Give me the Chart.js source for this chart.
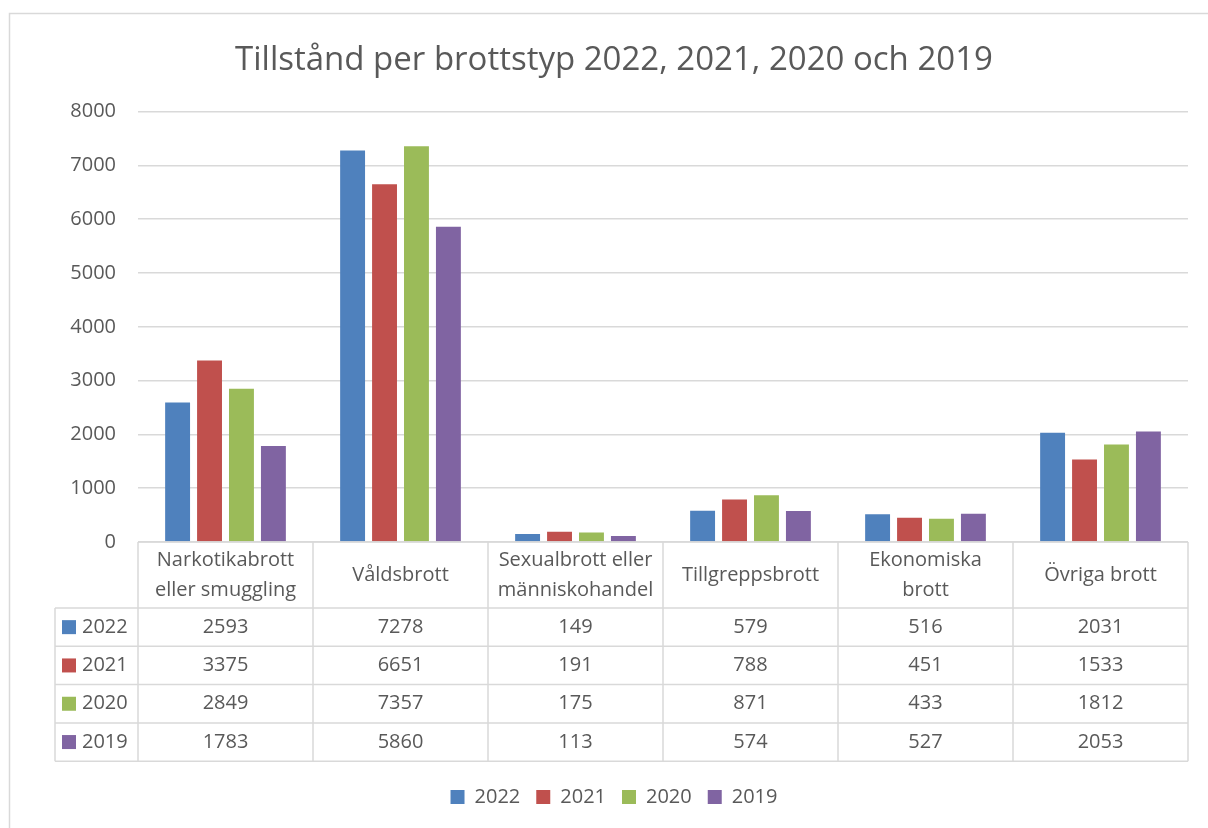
<!DOCTYPE html>
<html>
<head>
<meta charset="utf-8">
<script src="https://cdn.jsdelivr.net/npm/chart.js@4"></script>
<style>
  html, body { margin: 0; padding: 0; background: #fff; }
  #wrap { width: 1208px; height: 828px; }
</style>
</head>
<body>
<div id="wrap"><canvas id="myChart" width="1208" height="828"></canvas></div>
<script>
const categories = [
    ['Narkotikabrott', 'eller smuggling'],
    ['Våldsbrott'],
    ['Sexualbrott eller', 'människohandel'],
    ['Tillgreppsbrott'],
    ['Ekonomiska', 'brott'],
    ['Övriga brott']
];
const years = ['2022', '2021', '2020', '2019'];
const values2022 = [2593, 7278, 149, 579, 516, 2031];
const values2021 = [3375, 6651, 191, 788, 451, 1533];
const values2020 = [2849, 7357, 175, 871, 433, 1812];
const values2019 = [1783, 5860, 113, 574, 527, 2053];
const colors = ['#4F81BD', '#C0504D', '#9BBB59', '#8064A2'];

const textColor = '#595959';
const lineColor = '#D9D9D9';
const fontFamily = "'Open Sans', 'Noto Sans', sans-serif";

// ram runt diagrammet + datatabell under x-axeln
const tablePlugin = {
    id: 'dataTable',
    beforeDraw(chart) {
        const ctx = chart.ctx;
        ctx.save();
        ctx.strokeStyle = lineColor;
        ctx.lineWidth = 1.5;
        ctx.strokeRect(9.5, 13.5, 1400, 1000);
        ctx.restore();
    },
    afterDraw(chart) {
        const ctx = chart.ctx;
        const area = chart.chartArea;
        const xs = chart.scales.x;
        const n = categories.length;
        const cw = (area.right - area.left) / n;
        const top = area.bottom;
        const headH = 66;
        const rowH = 38.3;
        const left = 55;
        const bottom = top + headH + rowH * years.length;
        const sets = chart.data.datasets;

        ctx.save();
        ctx.strokeStyle = lineColor;
        ctx.lineWidth = 1.5;
        ctx.beginPath();
        // horisontella linjer
        ctx.moveTo(area.left, top); ctx.lineTo(area.right, top);
        for (let r = 0; r <= years.length; r++) {
            const y = top + headH + rowH * r;
            ctx.moveTo(left, y); ctx.lineTo(area.right, y);
        }
        // vertikala linjer
        ctx.moveTo(left, top + headH); ctx.lineTo(left, bottom);
        for (let i = 0; i <= n; i++) {
            const x = area.left + cw * i;
            ctx.moveTo(x, top); ctx.lineTo(x, bottom);
        }
        ctx.stroke();

        ctx.fillStyle = textColor;
        ctx.font = '20px ' + fontFamily;
        ctx.textAlign = 'center';
        ctx.textBaseline = 'middle';
        categories.forEach((lab, i) => {
            const cx = xs.getPixelForValue(i);
            const lh = 30;
            const y0 = top + headH / 2 - (lab.length - 1) * lh / 2;
            lab.forEach((s, k) => ctx.fillText(s, cx, y0 + k * lh));
        });

        sets.forEach((ds, r) => {
            const cy = top + headH + rowH * r + rowH / 2;
            ds.data.forEach((v, i) => {
                ctx.fillText(String(v), xs.getPixelForValue(i), cy);
            });
            ctx.fillStyle = ds.backgroundColor;
            ctx.fillRect(62, cy - 7, 14, 14);
            ctx.fillStyle = textColor;
            ctx.textAlign = 'left';
            ctx.fillText(ds.label, 82, cy);
            ctx.textAlign = 'center';
        });
        ctx.restore();
    }
};

const valueLists = [values2022, values2021, values2020, values2019];

const data = {
    labels: categories,
    datasets: years.map((y, i) => ({
        label: y,
        data: valueLists[i],
        backgroundColor: colors[i],
        borderColor: colors[i],
        borderWidth: 0,
        categoryPercentage: 0.73,
        barPercentage: 0.78
    }))
};

const config = {
    type: 'bar',
    data: data,
    options: {
        responsive: false,
        animation: false,
        layout: {
            padding: { left: 40, right: 20, top: 0, bottom: 11 }
        },
        plugins: {
            title: {
                display: true,
                text: 'Tillstånd per brottstyp 2022, 2021, 2020 och 2019',
                color: textColor,
                font: { family: fontFamily, size: 33, weight: 'normal' },
                padding: { top: 41, bottom: 31 }
            },
            legend: {
                position: 'bottom',
                labels: {
                    color: textColor,
                    font: { family: fontFamily, size: 20 },
                    boxWidth: 14,
                    boxHeight: 14,
                    padding: 16
                }
            },
            tooltip: { enabled: false }
        },
        scales: {
            x: {
                grid: { display: false },
                border: { display: false },
                ticks: { display: false },
                afterFit: (scale) => { scale.height = 229; }
            },
            y: {
                min: 0,
                max: 8000,
                ticks: {
                    stepSize: 1000,
                    color: textColor,
                    padding: 22,
                    font: { family: fontFamily, size: 20 },
                    callback: (v) => String(v)
                },
                grid: { color: lineColor, lineWidth: 1.5, drawTicks: false },
                border: { display: false },
                afterFit: (scale) => { scale.width = 98; }
            }
        }
    },
    plugins: [tablePlugin]
};

const ctx = document.getElementById('myChart').getContext('2d');
new Chart(ctx, config);
</script>
</body>
</html>
